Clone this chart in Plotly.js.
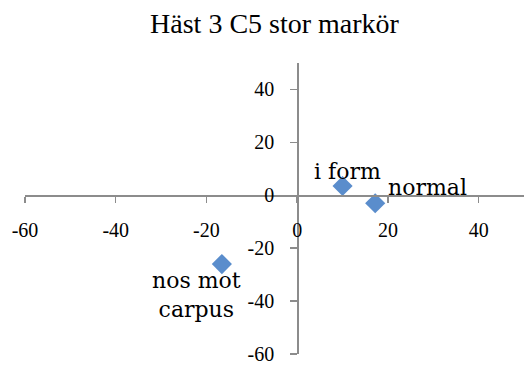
<!DOCTYPE html>
<html>
<head>
<meta charset="utf-8">
<script src="https://cdn.plot.ly/plotly-3.0.1.min.js"></script>
<style>
  html, body { margin: 0; padding: 0; background: #fff; }
  #chart { width: 524px; height: 369px; }
</style>
</head>
<body>
<div id="chart"></div>
<script>
// Marker positions for the three postures
const pointNames = ['i form', 'normal', 'nos mot<br>carpus'];
const xValues = [10, 17.2, -16.6];
const yValues = [3.5, -3, -26];

// Axis ticks
const xTicks = [-60, -40, -20, 0, 20, 40];
const yTicks = [-60, -40, -20, 0, 20, 40];
const xRange = [-60, 50];
const yRange = [-60, 50];

// Label placement relative to each marker (pixels)
const labelAnchor = ['center', 'left', 'center'];
const labelShiftX = [5, 11, -25];
const labelShiftY = [15, 16, -31];

const labelFont = 'DejaVu Serif';
const textFont = 'Liberation Serif';
const axisGray = '#8c8c8c';

// Axes cross at the origin
const crossX = (0 - xRange[0]) / (xRange[1] - xRange[0]);
const crossY = (0 - yRange[0]) / (yRange[1] - yRange[0]);

const trace = {
  type: 'scatter',
  mode: 'markers',
  x: xValues,
  y: yValues,
  marker: { symbol: 'diamond', size: 15.5, color: '#5a8dcc', line: { width: 0 } },
  hoverinfo: 'skip',
  cliponaxis: false
};

const annotations = pointNames.map((name, i) => ({
  x: xValues[i],
  y: yValues[i],
  xref: 'x',
  yref: 'y',
  text: name,
  showarrow: false,
  xanchor: labelAnchor[i],
  yanchor: 'middle',
  xshift: labelShiftX[i],
  yshift: labelShiftY[i],
  font: { family: labelFont, size: 22, color: '#000' }
}));

const layout = {
  width: 524,
  height: 369,
  margin: { l: 25, r: 0, t: 63, b: 15 },
  paper_bgcolor: '#fff',
  plot_bgcolor: '#fff',
  showlegend: false,
  title: {
    text: 'Häst 3 C5 stor markör',
    font: { family: textFont, size: 28, color: '#000' },
    x: 0.5,
    xanchor: 'center',
    xref: 'paper',
    yref: 'container',
    y: 1 - 23 / 369,
    yanchor: 'middle'
  },
  xaxis: {
    range: xRange,
    anchor: 'free',
    position: crossY,
    tickmode: 'array',
    tickvals: xTicks,
    ticktext: xTicks.map(String),
    ticks: 'outside',
    ticklen: 6,
    tickwidth: 1.5,
    tickcolor: axisGray,
    showline: true,
    linecolor: axisGray,
    linewidth: 1.5,
    showgrid: false,
    zeroline: false,
    ticklabelstandoff: 10,
    tickfont: { family: textFont, size: 20, color: '#000' },
    fixedrange: true
  },
  yaxis: {
    range: yRange,
    anchor: 'free',
    position: crossX,
    tickmode: 'array',
    tickvals: yTicks,
    ticktext: yTicks.map(String),
    ticks: 'outside',
    ticklen: 7,
    tickwidth: 1.5,
    tickcolor: axisGray,
    showline: true,
    linecolor: axisGray,
    linewidth: 1.5,
    showgrid: false,
    zeroline: false,
    ticklabelstandoff: 12,
    tickfont: { family: textFont, size: 20, color: '#000' },
    fixedrange: true
  },
  annotations: annotations
};

Plotly.newPlot('chart', [trace], layout, { displayModeBar: false, staticPlot: true });
</script>
</body>
</html>
